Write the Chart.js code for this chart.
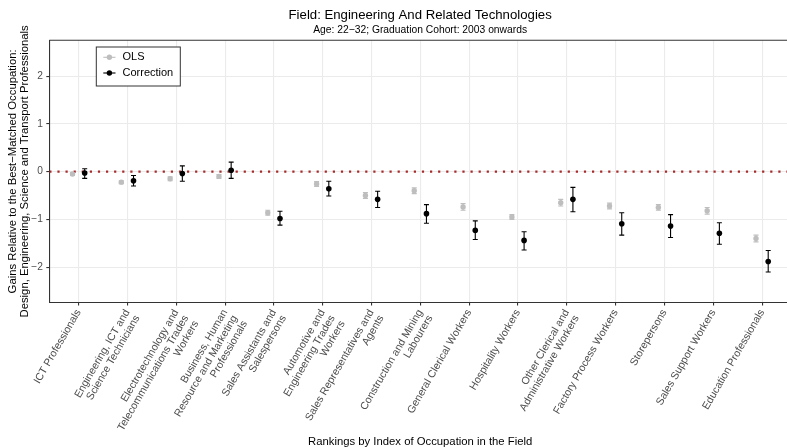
<!DOCTYPE html>
<html>
<head>
<meta charset="utf-8">
<script src="https://cdn.jsdelivr.net/npm/chart.js@4.4.1/dist/chart.umd.min.js"></script>
<style>
  html, body { margin: 0; padding: 0; background: #ffffff; overflow: hidden; }
  #wrap { width: 787px; height: 447px; position: relative; }
</style>
</head>
<body>
<div id="wrap"><canvas id="chart"></canvas></div>
<script>
// Occupations, ordered by their index within the field (multi-line tick labels)
const occupations = [
  ['ICT Professionals'],
  ['Engineering, ICT and', 'Science Technicians'],
  ['Electrotechnology and', 'Telecommunications Trades', 'Workers'],
  ['Business, Human', 'Resource and Marketing', 'Professionals'],
  ['Sales Assistants and', 'Salespersons'],
  ['Automotive and', 'Engineering Trades', 'Workers'],
  ['Sales Representatives and', 'Agents'],
  ['Construction and Mining', 'Labourers'],
  ['General Clerical Workers'],
  ['Hospitality Workers'],
  ['Other Clerical and', 'Administrative Workers'],
  ['Factory Process Workers'],
  ['Storepersons'],
  ['Sales Support Workers'],
  ['Education Professionals']
];

// OLS estimates with their confidence bounds
const olsEstimate = [-0.05, -0.22, -0.15, -0.10, -0.86, -0.26, -0.50, -0.40, -0.74, -0.95, -0.65, -0.72, -0.75, -0.82, -1.40];
const olsLower    = [-0.08, -0.25, -0.19, -0.14, -0.91, -0.31, -0.56, -0.46, -0.81, -1.00, -0.72, -0.78, -0.81, -0.89, -1.47];
const olsUpper    = [-0.02, -0.19, -0.11, -0.06, -0.81, -0.21, -0.44, -0.34, -0.67, -0.90, -0.58, -0.66, -0.69, -0.75, -1.33];

// Corrected estimates with their confidence bounds
const correctionEstimate = [-0.03, -0.19, -0.04, 0.03, -0.98, -0.36, -0.58, -0.88, -1.23, -1.44, -0.58, -1.09, -1.14, -1.29, -1.88];
const correctionLower    = [-0.14, -0.30, -0.20, -0.14, -1.12, -0.51, -0.75, -1.08, -1.42, -1.64, -0.84, -1.33, -1.38, -1.52, -2.10];
const correctionUpper    = [ 0.06, -0.08,  0.12,  0.20, -0.83, -0.20, -0.41, -0.69, -1.03, -1.26, -0.33, -0.86, -0.90, -1.07, -1.65];

const yTickValues = [-2, -1, 0, 1, 2];
const seriesNames = ['OLS', 'Correction'];

const titleText = 'Field: Engineering And Related Technologies';
const subtitleText = 'Age: 22\u221232; Graduation Cohort: 2003 onwards';
const xAxisTitle = 'Rankings by Index of Occupation in the Field';
const yAxisTitle = ['Gains Relative to the Best\u2212Matched Occupation:',
                    'Design, Engineering, Science and Transport Professionals'];

const FONT = '"Liberation Sans", Arial, Helvetica, sans-serif';
const OLS_COLOR = '#BEBEBE';
const CORR_COLOR = '#000000';
const DODGE = 0.125;
const X_MIN = -0.6, X_MAX = 14.51;

const toPoints = (vals, shift) => vals.map((v, i) => ({ x: i + shift, y: v }));

// Error bars for both series, drawn beneath the point markers
const errorBarPlugin = {
  id: 'errorBars',
  beforeDatasetsDraw(chart) {
    const { ctx, scales: { x, y } } = chart;
    const series = [
      { lo: olsLower, hi: olsUpper, shift: -DODGE, color: OLS_COLOR },
      { lo: correctionLower, hi: correctionUpper, shift: DODGE, color: CORR_COLOR }
    ];
    ctx.save();
    ctx.lineWidth = 1.1;
    series.forEach(s => {
      ctx.strokeStyle = s.color;
      s.lo.forEach((lo, i) => {
        const px = x.getPixelForValue(i + s.shift);
        const y1 = y.getPixelForValue(lo);
        const y2 = y.getPixelForValue(s.hi[i]);
        const cap = 2.5;
        ctx.beginPath();
        ctx.moveTo(px, y1); ctx.lineTo(px, y2);
        ctx.moveTo(px - cap, y1); ctx.lineTo(px + cap, y1);
        ctx.moveTo(px - cap, y2); ctx.lineTo(px + cap, y2);
        ctx.stroke();
      });
    });
    ctx.restore();
  }
};

// Panel frame, titles, axis titles and legend
const decorPlugin = {
  id: 'decor',
  afterDraw(chart) {
    const { ctx, chartArea: a } = chart;
    ctx.save();
    // top edge of the panel frame
    ctx.strokeStyle = '#333333';
    ctx.lineWidth = 1.1;
    ctx.beginPath();
    ctx.moveTo(a.left, a.top); ctx.lineTo(a.right, a.top);
    ctx.stroke();

    const cx = (a.left + 791) / 2;
    ctx.fillStyle = '#000000';
    ctx.textAlign = 'center';
    ctx.textBaseline = 'alphabetic';
    ctx.font = '13.2px ' + FONT;
    ctx.fillText(titleText, cx, 18.5);
    ctx.font = '10.3px ' + FONT;
    ctx.fillText(subtitleText, cx, 33.3);
    ctx.font = '11.3px ' + FONT;
    ctx.fillText(xAxisTitle, cx, 444.5);

    // y-axis title, rotated
    ctx.save();
    ctx.translate(0, (a.top + a.bottom) / 2);
    ctx.rotate(-Math.PI / 2);
    ctx.textBaseline = 'middle';
    ctx.font = '11.3px ' + FONT;
    ctx.fillText(yAxisTitle[0], 0, 13.3);
    ctx.fillText(yAxisTitle[1], 0, 24.7);
    ctx.restore();

    // legend box
    const lx = 96.3, ly = 47, lw = 84, lh = 39;
    ctx.fillStyle = '#ffffff';
    ctx.fillRect(lx, ly, lw, lh);
    ctx.strokeStyle = '#333333';
    ctx.lineWidth = 1;
    ctx.strokeRect(lx, ly, lw, lh);
    const rows = [
      { name: seriesNames[0], color: OLS_COLOR, y: 57.3 },
      { name: seriesNames[1], color: CORR_COLOR, y: 73 }
    ];
    rows.forEach(r => {
      ctx.strokeStyle = r.color;
      ctx.lineWidth = 1.1;
      ctx.beginPath();
      ctx.moveTo(103.3, r.y); ctx.lineTo(115.5, r.y);
      ctx.stroke();
      ctx.fillStyle = r.color;
      ctx.beginPath();
      ctx.arc(109.4, r.y, 2.7, 0, Math.PI * 2);
      ctx.fill();
      ctx.fillStyle = '#000000';
      ctx.textAlign = 'left';
      ctx.textBaseline = 'middle';
      ctx.font = '11px ' + FONT;
      ctx.fillText(r.name, 122.5, r.y);
    });
    ctx.restore();
  }
};

new Chart(document.getElementById('chart'), {
  type: 'scatter',
  data: {
    datasets: [
      {
        type: 'line',
        label: 'zero',
        data: [{ x: X_MIN, y: 0 }, { x: X_MAX, y: 0 }],
        borderColor: '#A52A2A',
        borderWidth: 2.2,
        borderDash: [2.2, 5.9],
        pointRadius: 0,
        order: 3
      },
      {
        label: seriesNames[0],
        data: toPoints(olsEstimate, -DODGE),
        backgroundColor: OLS_COLOR,
        borderColor: OLS_COLOR,
        borderWidth: 0,
        pointRadius: 2.7,
        pointHoverRadius: 2.7,
        order: 2
      },
      {
        label: seriesNames[1],
        data: toPoints(correctionEstimate, DODGE),
        backgroundColor: CORR_COLOR,
        borderColor: CORR_COLOR,
        borderWidth: 0,
        pointRadius: 2.8,
        pointHoverRadius: 2.8,
        order: 1
      }
    ]
  },
  options: {
    responsive: true,
    maintainAspectRatio: false,
    animation: false,
    devicePixelRatio: 1,
    events: [],
    layout: { autoPadding: false, padding: { top: 40.3, left: 0, right: 0, bottom: 0 } },
    plugins: {
      legend: { display: false },
      title: { display: false },
      tooltip: { enabled: false }
    },
    scales: {
      x: {
        type: 'linear',
        min: X_MIN,
        max: X_MAX,
        afterBuildTicks: s => { s.ticks = occupations.map((_, i) => ({ value: i })); },
        afterFit: s => {
          s.height = 144.5;
          s.paddingLeft = 0;
          s.paddingRight = 0;
        },
        ticks: {
          autoSkip: false,
          minRotation: 60,
          maxRotation: 60,
          padding: 2,
          color: '#4D4D4D',
          font: { family: FONT, size: 10.6, lineHeight: 1.08 },
          callback: (v) => occupations[v]
        },
        grid: { color: '#EBEBEB', lineWidth: 1.1, tickLength: 3, tickColor: '#333333' },
        border: { color: '#333333', width: 1.1 }
      },
      y: {
        min: -2.74,
        max: 2.75,
        afterBuildTicks: s => { s.ticks = yTickValues.map(v => ({ value: v })); },
        afterFit: s => {
          s.width = 49.3;
          s.paddingTop = 0;
          s.paddingBottom = 0;
        },
        ticks: {
          padding: 3.5,
          color: '#4D4D4D',
          font: { family: FONT, size: 10.2 },
          callback: v => (v < 0 ? '\u2212' + Math.abs(v) : String(v))
        },
        grid: { color: '#EBEBEB', lineWidth: 1.1, tickLength: 3, tickColor: '#333333' },
        border: { color: '#333333', width: 1.1 }
      }
    }
  },
  plugins: [errorBarPlugin, decorPlugin]
});
</script>
</body>
</html>
